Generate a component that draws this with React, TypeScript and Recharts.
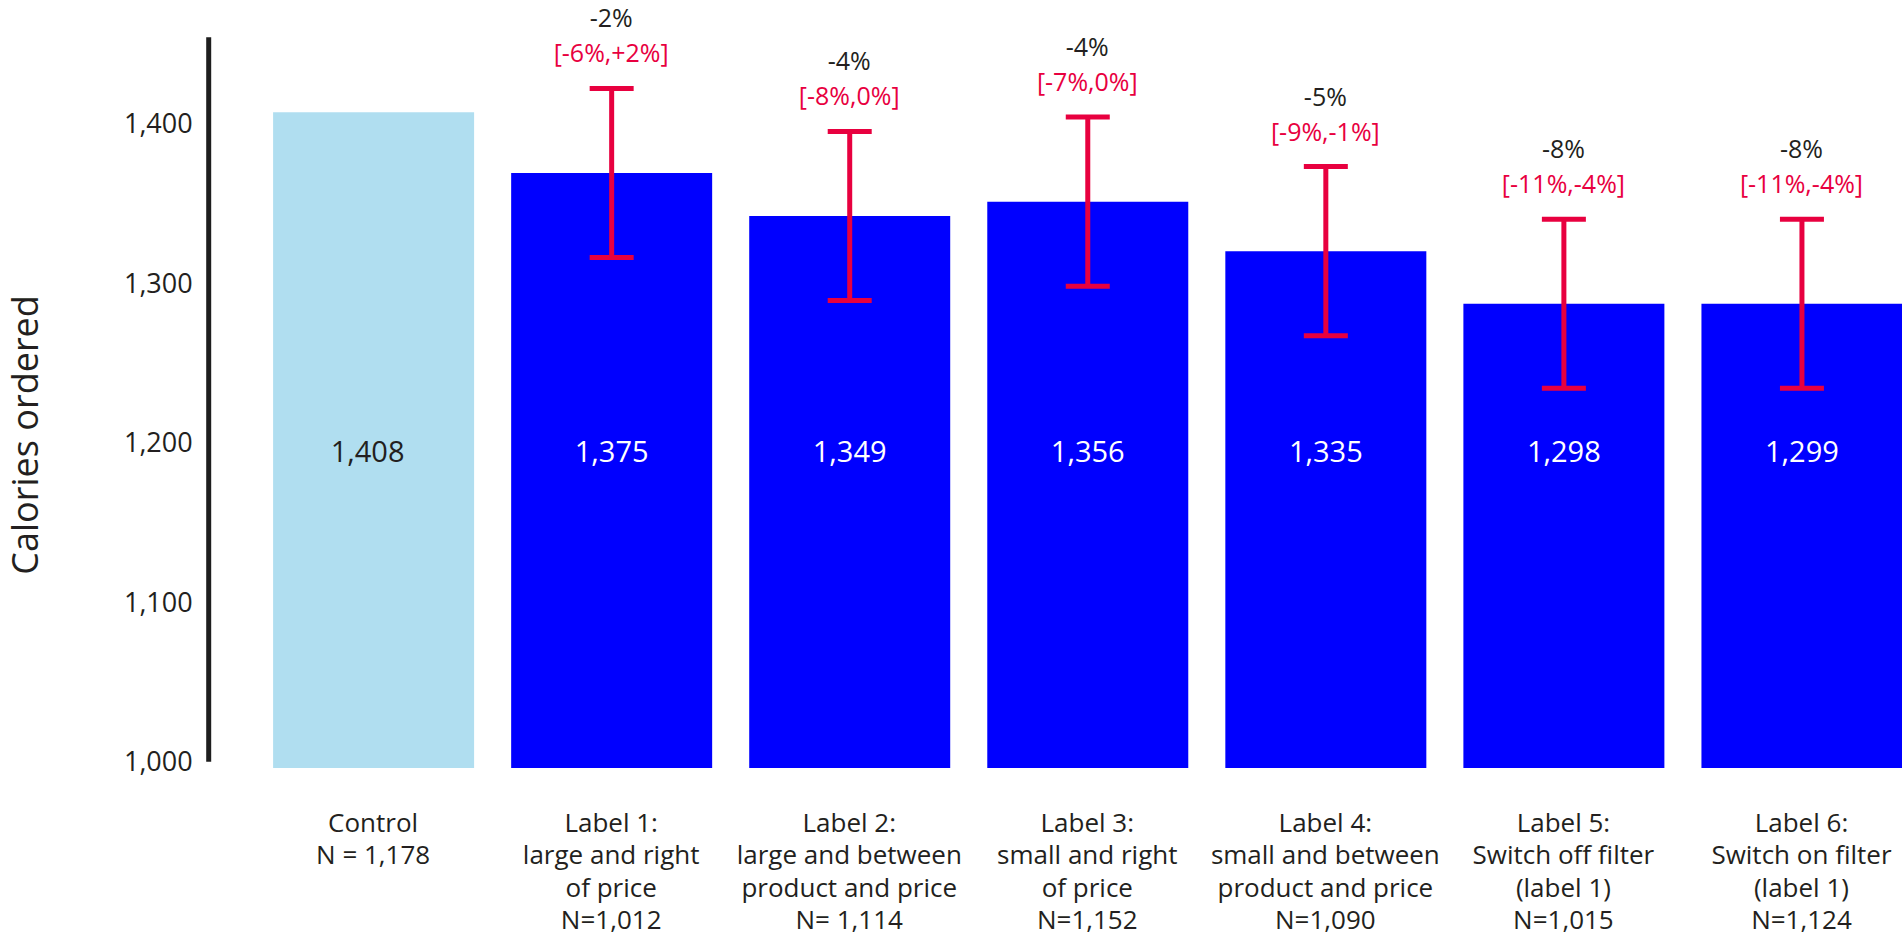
import { ComposedChart, Bar, Line, XAxis, YAxis, ErrorBar, LabelList, Cell, ReferenceLine } from "recharts";

const categories = ["Control", "Label 1", "Label 2", "Label 3", "Label 4", "Label 5", "Label 6"];
// bar heights as drawn in the figure
const meanCalories = [1407, 1369, 1342, 1351, 1320, 1287, 1287];
// printed value inside each bar
const printedMeans = ["1,408", "1,375", "1,349", "1,356", "1,335", "1,298", "1,299"];
const ciHalfWidth = [null, 53, 53, 53, 53, 53, 53];
const changeLabels = ["", "-2%", "-4%", "-4%", "-5%", "-8%", "-8%"];
const ciLabels = ["", "[-6%,+2%]", "[-8%,0%]", "[-7%,0%]", "[-9%,-1%]", "[-11%,-4%]", "[-11%,-4%]"];
const axisLabelLines = [
    ["Control", "N = 1,178"],
    ["Label 1:", "large and right", "of price", "N=1,012"],
    ["Label 2:", "large and between", "product and price", "N= 1,114"],
    ["Label 3:", "small and right", "of price", "N=1,152"],
    ["Label 4:", "small and between", "product and price", "N=1,090"],
    ["Label 5:", "Switch off filter", "(label 1)", "N=1,015"],
    ["Label 6:", "Switch on filter", "(label 1)", "N=1,124"],
];
const yTicks = [1000, 1100, 1200, 1300, 1400];

const FONT = "'Open Sans', Lato, sans-serif";
const DARK = "#231f20";
const RED = "#e8003f";
const BLUE = "#0000ff";
const LIGHT_BLUE = "#b0def0";

const data = categories.map((name, i) => ({
    name,
    value: meanCalories[i],
    err: ciHalfWidth[i],
    upper: ciHalfWidth[i] == null ? null : meanCalories[i] + (ciHalfWidth[i] as number),
}));

function CategoryTick(props: any) {
    const { x, y, payload } = props;
    const idx = categories.indexOf(payload.value);
    const lines = axisLabelLines[idx] || [];
    return (
        <g>
            {lines.map((line, i) => (
                <text
                    key={i}
                    x={x}
                    y={y + 54 + i * 32.3}
                    textAnchor="middle"
                    dominantBaseline="central"
                    fontSize={26}
                    fontFamily={FONT}
                    fill={DARK}
                >
                    {line}
                </text>
            ))}
        </g>
    );
}

function YTitle(props: any) {
    const vb = props.viewBox || { y: 0, height: 0 };
    const cy = vb.y + vb.height / 2 + 37;
    return (
        <text
            x={25}
            y={cy}
            transform={`rotate(-90 25 ${cy})`}
            textAnchor="middle"
            dominantBaseline="central"
            fontSize={36}
            fontFamily={FONT}
            fill={DARK}
        >
            Calories ordered
        </text>
    );
}

function MeanLabel(props: any) {
    const { x, y, width, height, index } = props;
    return (
        <text
            x={x + width / 2 - (index === 0 ? 6 : 0)}
            y={y + height - 318}
            textAnchor="middle"
            dominantBaseline="central"
            fontSize={29}
            fontFamily={FONT}
            fill={index === 0 ? DARK : "#ffffff"}
        >
            {printedMeans[index]}
        </text>
    );
}

function ChangeLabel(props: any) {
    const { x, y, index, value } = props;
    if (value == null) return null;
    return (
        <g>
            <text x={x} y={y - 71} textAnchor="middle" dominantBaseline="central" fontSize={25} fontFamily={FONT} fill={DARK}>
                {changeLabels[index]}
            </text>
            <text x={x} y={y - 36} textAnchor="middle" dominantBaseline="central" fontSize={25} fontFamily={FONT} fill={RED}>
                {ciLabels[index]}
            </text>
        </g>
    );
}

export default function App() {
    return (
        <div style={{ position: "absolute", left: 0, top: 0, width: 1902, height: 937, overflow: "hidden", background: "#fff" }}>
            <ComposedChart width={1920.5} height={937} data={data} margin={{ top: 27.77, right: 0, bottom: 0, left: 0 }}>
                <XAxis
                    dataKey="name"
                    type="category"
                    height={168.92}
                    padding={{ left: 45.4, right: 0 }}
                    axisLine={false}
                    tickLine={false}
                    tickSize={0}
                    tickMargin={0}
                    interval={0}
                    tick={<CategoryTick />}
                />
                <XAxis xAxisId="frame" type="number" domain={[0, 1]} hide />
                <YAxis
                    type="number"
                    domain={[996, 1460]}
                    ticks={yTicks}
                    width={208.7}
                    axisLine={false}
                    tickLine={false}
                    tickSize={0}
                    tickMargin={16}
                    tickFormatter={(v: number) => v.toLocaleString("en-US")}
                    tick={{ fontSize: 27, fontFamily: FONT, fill: DARK }}
                    label={<YTitle />}
                />
                <ReferenceLine
                    xAxisId="frame"
                    segment={[{ x: 0, y: 1000 }, { x: 0, y: 1454 }]}
                    stroke="#1e1e1e"
                    strokeWidth={5}
                    ifOverflow="visible"
                />
                <Bar dataKey="value" barSize={201} isAnimationActive={false}>
                    {data.map((d, i) => (
                        <Cell key={d.name} fill={i === 0 ? LIGHT_BLUE : BLUE} />
                    ))}
                    <LabelList dataKey="value" content={<MeanLabel />} />
                    <ErrorBar dataKey="err" width={22} strokeWidth={5} stroke={RED} isAnimationActive={false} />
                </Bar>
                <Line dataKey="upper" stroke="none" dot={false} activeDot={false} legendType="none" isAnimationActive={false}>
                    <LabelList dataKey="upper" content={<ChangeLabel />} />
                </Line>
            </ComposedChart>
        </div>
    );
}
